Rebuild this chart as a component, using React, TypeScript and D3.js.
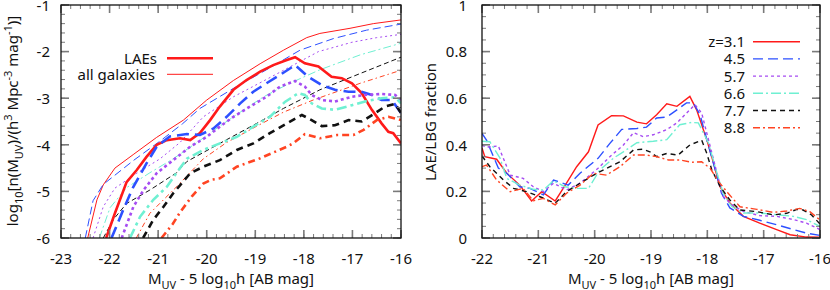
import React from 'react';
import * as d3 from 'd3';

type P = [number, number];

// ---------- Left panel: luminosity functions ----------
const allZ31: P[] = [[-22.45,-6],[-22.26,-5.18],[-22.13,-4.86],[-21.89,-4.5],[-21.5,-4.2],[-21.03,-3.84],[-20.48,-3.47],[-20.0,-3.04],[-19.45,-2.62],[-18.9,-2.26],[-18.42,-1.97],[-17.94,-1.7],[-17.67,-1.61],[-17.05,-1.5],[-16.57,-1.4],[-16,-1.32]];
const allZ45: P[] = [[-22.5,-6],[-22.34,-5.2],[-22.13,-4.85],[-21.5,-4.33],[-20.96,-3.92],[-20.5,-3.55],[-20.14,-3.22],[-19.45,-2.79],[-18.77,-2.39],[-18.08,-1.97],[-17.39,-1.72],[-16.71,-1.54],[-16,-1.41]];
const allZ57: P[] = [[-22.34,-6],[-22.13,-5.33],[-21.89,-4.93],[-21.44,-4.61],[-20.96,-4.3],[-20.55,-3.95],[-20.07,-3.4],[-19.45,-2.97],[-18.83,-2.63],[-18.29,-2.33],[-17.7,-2.0],[-17.01,-1.8],[-16.5,-1.7],[-16,-1.63]];
const allZ66: P[] = [[-22.21,-6],[-21.99,-5.35],[-21.65,-4.92],[-21.17,-4.6],[-20.69,-4.3],[-20.2,-3.95],[-19.73,-3.6],[-19.31,-3.3],[-18.83,-2.97],[-18.29,-2.68],[-17.67,-2.39],[-16.84,-2.07],[-16,-1.82]];
const allZ77: P[] = [[-22.13,-6],[-21.92,-5.6],[-21.65,-5.26],[-21.17,-4.97],[-20.62,-4.6],[-20.41,-4.36],[-19.73,-3.97],[-18.97,-3.54],[-18.42,-3.22],[-17.67,-2.82],[-16.84,-2.47],[-16,-2.12]];
const allZ88: P[] = [[-21.45,-6],[-21.17,-5.47],[-20.62,-4.9],[-20.07,-4.3],[-19.59,-3.95],[-18.97,-3.6],[-18.42,-3.3],[-17.81,-3.04],[-16.84,-2.68],[-16,-2.4]];

const laeZ31: P[] = [[-22.07,-6],[-21.89,-5.47],[-21.65,-4.8],[-21.44,-4.54],[-21.24,-4.26],[-21.03,-4.0],[-20.82,-3.9],[-20.55,-3.86],[-20.34,-3.9],[-20.14,-3.75],[-19.93,-3.47],[-19.73,-3.18],[-19.45,-2.82],[-19.18,-2.61],[-18.9,-2.43],[-18.63,-2.29],[-18.35,-2.18],[-18.18,-2.12],[-17.98,-2.25],[-17.7,-2.32],[-17.43,-2.54],[-17.22,-2.57],[-17.01,-2.68],[-16.81,-2.89],[-16.6,-3.25],[-16.4,-3.54],[-16.26,-3.72],[-16.16,-3.75],[-16,-3.97]];
const laeZ45: P[] = [[-21.96,-6],[-21.72,-5.4],[-21.51,-4.9],[-21.24,-4.4],[-21.03,-4.04],[-20.76,-3.82],[-20.41,-3.77],[-20.14,-3.79],[-19.86,-3.65],[-19.59,-3.4],[-19.31,-3.11],[-19.04,-2.86],[-18.77,-2.68],[-18.49,-2.5],[-18.18,-2.29],[-17.91,-2.54],[-17.63,-2.72],[-17.36,-2.82],[-17.08,-2.86],[-16.81,-2.86],[-16.6,-2.93],[-16.4,-3.04],[-16.19,-3.04],[-16,-3.32]];
const laeZ57: P[] = [[-21.75,-6],[-21.51,-5.33],[-21.3,-4.97],[-21.03,-4.61],[-20.69,-4.33],[-20.34,-4.04],[-20.0,-3.83],[-19.73,-3.61],[-19.45,-3.4],[-19.11,-3.18],[-18.77,-2.97],[-18.49,-2.75],[-18.18,-2.63],[-17.98,-2.75],[-17.84,-2.93],[-17.63,-3.04],[-17.36,-3.07],[-17.01,-2.97],[-16.74,-2.93],[-16.4,-2.91],[-16.12,-2.93],[-16,-3.04]];
const laeZ66: P[] = [[-21.58,-6],[-21.37,-5.54],[-21.1,-5.18],[-20.82,-4.9],[-20.62,-4.6],[-20.41,-4.3],[-20.07,-4.11],[-19.73,-3.97],[-19.38,-3.83],[-19.04,-3.61],[-18.7,-3.4],[-18.39,-3.08],[-18.11,-2.89],[-17.98,-2.93],[-17.84,-3.11],[-17.63,-3.22],[-17.36,-3.25],[-17.01,-3.15],[-16.74,-3.07],[-16.4,-3.0],[-16.12,-2.98],[-16,-3.11]];
const laeZ77: P[] = [[-21.31,-6],[-21.1,-5.61],[-20.89,-5.33],[-20.69,-5.04],[-20.55,-4.87],[-20.34,-4.61],[-20.07,-4.47],[-19.73,-4.33],[-19.38,-4.11],[-19.04,-3.97],[-18.7,-3.75],[-18.35,-3.54],[-18.04,-3.36],[-17.84,-3.47],[-17.63,-3.6],[-17.36,-3.58],[-17.08,-3.47],[-16.81,-3.5],[-16.53,-3.32],[-16.33,-3.18],[-16.12,-3.12],[-16,-3.32]];
const laeZ88: P[] = [[-20.93,-6],[-20.7,-5.7],[-20.55,-5.45],[-20.3,-5.1],[-20.07,-4.83],[-19.9,-4.75],[-19.73,-4.72],[-19.38,-4.47],[-18.9,-4.29],[-18.35,-4.04],[-18.22,-3.97],[-17.98,-3.77],[-17.67,-3.86],[-17.32,-3.79],[-16.98,-3.79],[-16.77,-3.68],[-16.5,-3.47],[-16.26,-3.4],[-16,-3.47]];

// ---------- Right panel: LAE / LBG fraction ----------
const fracZ31: P[] = [[-22,0.386],[-21.95,0.349],[-21.74,0.338],[-21.56,0.278],[-21.33,0.227],[-21.12,0.159],[-20.94,0.199],[-20.7,0.159],[-20.5,0.235],[-20.32,0.306],[-20.11,0.37],[-19.94,0.485],[-19.7,0.525],[-19.49,0.524],[-19.25,0.497],[-19.08,0.49],[-18.9,0.529],[-18.72,0.576],[-18.54,0.565],[-18.31,0.608],[-18.19,0.55],[-18.01,0.422],[-17.89,0.322],[-17.78,0.222],[-17.6,0.15],[-17.36,0.093],[-17.07,0.064],[-16.77,0.036],[-16.53,0.014],[-16.24,0.004],[-16,0.003]];
const fracZ45: P[] = [[-22,0.449],[-21.92,0.42],[-21.71,0.3],[-21.56,0.278],[-21.33,0.22],[-21.15,0.213],[-20.91,0.185],[-20.73,0.249],[-20.47,0.227],[-20.26,0.278],[-19.94,0.342],[-19.73,0.406],[-19.52,0.466],[-19.25,0.47],[-19.08,0.476],[-18.9,0.515],[-18.72,0.519],[-18.54,0.55],[-18.37,0.58],[-18.25,0.58],[-18.13,0.53],[-18.01,0.422],[-17.86,0.293],[-17.75,0.193],[-17.6,0.129],[-17.36,0.093],[-17.07,0.076],[-16.77,0.057],[-16.47,0.036],[-16.24,0.021],[-16,0.011]];
const fracZ57: P[] = [[-22,0.398],[-21.92,0.39],[-21.71,0.395],[-21.5,0.27],[-21.27,0.256],[-21.09,0.22],[-20.91,0.199],[-20.73,0.235],[-20.5,0.206],[-20.26,0.235],[-19.94,0.299],[-19.73,0.349],[-19.49,0.399],[-19.31,0.452],[-19.14,0.435],[-18.96,0.443],[-18.72,0.465],[-18.54,0.494],[-18.37,0.536],[-18.22,0.572],[-18.1,0.536],[-17.98,0.422],[-17.83,0.279],[-17.72,0.179],[-17.57,0.143],[-17.36,0.114],[-17.07,0.096],[-16.77,0.093],[-16.47,0.079],[-16.24,0.064],[-16,0.036]];
const fracZ66: P[] = [[-22,0.415],[-21.86,0.413],[-21.68,0.343],[-21.56,0.256],[-21.33,0.227],[-21.09,0.209],[-20.91,0.206],[-20.73,0.246],[-20.53,0.22],[-20.32,0.213],[-20.11,0.213],[-19.91,0.292],[-19.67,0.342],[-19.49,0.37],[-19.25,0.409],[-18.96,0.415],[-18.72,0.422],[-18.49,0.486],[-18.28,0.496],[-18.16,0.494],[-17.98,0.408],[-17.83,0.279],[-17.72,0.193],[-17.57,0.136],[-17.36,0.107],[-17.07,0.107],[-16.77,0.1],[-16.47,0.093],[-16.24,0.079],[-16,0.05]];
const fracZ77: P[] = [[-22,0.352],[-21.86,0.306],[-21.62,0.249],[-21.44,0.213],[-21.21,0.199],[-20.97,0.177],[-20.7,0.149],[-20.5,0.199],[-20.26,0.235],[-20.02,0.27],[-19.79,0.299],[-19.55,0.327],[-19.31,0.378],[-19.14,0.381],[-19.02,0.37],[-18.9,0.349],[-18.72,0.363],[-18.52,0.356],[-18.31,0.399],[-18.1,0.42],[-18.01,0.363],[-17.92,0.292],[-17.77,0.22],[-17.6,0.163],[-17.42,0.12],[-17.12,0.113],[-16.83,0.099],[-16.59,0.106],[-16.41,0.123],[-16.3,0.12],[-16.15,0.099],[-16,0.06]];
const fracZ88: P[] = [[-22,0.306],[-21.92,0.313],[-21.74,0.249],[-21.5,0.199],[-21.27,0.213],[-21.09,0.16],[-20.91,0.17],[-20.7,0.142],[-20.5,0.192],[-20.26,0.227],[-20.02,0.278],[-19.79,0.27],[-19.55,0.306],[-19.31,0.356],[-19.08,0.356],[-18.9,0.349],[-18.69,0.335],[-18.49,0.335],[-18.28,0.325],[-18.1,0.327],[-17.95,0.299],[-17.8,0.242],[-17.63,0.192],[-17.42,0.134],[-17.12,0.123],[-16.83,0.11],[-16.59,0.116],[-16.36,0.127],[-16.18,0.113],[-16,0.077]];

const legendLabels = ['z=3.1', '4.5', '5.7', '6.6', '7.7', '8.8'];
const leftLegend = ['LAEs', 'all galaxies'];
const leftXTicks = [-23, -22, -21, -20, -19, -18, -17, -16];
const leftYTicks = [-6, -5, -4, -3, -2, -1];
const rightXTicks = [-22, -21, -20, -19, -18, -17, -16];
const rightYTicks = [0, 0.2, 0.4, 0.6, 0.8, 1];

const FONT = "'Noto Sans', 'Open Sans', sans-serif";
const COLORS = ['#ff1a1a', '#2d50ff', '#a64cf2', '#6ff0d2', '#111111', '#ff4422'];
const THIN_DASH = ['', '8,4', '2,3', '8,3,2,3', '5,3', '5,3,1.5,3'];
const THICK_DASH = ['', '12,6', '3,3', '10,4,3,4', '7,5', '7,4,2,4'];
const RIGHT_DASH = ['', '10,5', '3,3', '10,3,2,3', '5,4', '7,3,2,3'];

type Seg = { t: string; s?: 'sub' | 'sup' };
function RichText({ segs, size, small }: { segs: Seg[]; size: number; small: number }) {
  let cur = 0;
  return (
    <>
      {segs.map((sg, i) => {
        const target = sg.s === 'sub' ? size * 0.3 : sg.s === 'sup' ? -size * 0.42 : 0;
        const dy = target - cur;
        cur = target;
        return (
          <tspan key={i} dy={dy} fontSize={sg.s ? small : size}>
            {sg.t}
          </tspan>
        );
      })}
    </>
  );
}

const xLabelSegs: Seg[] = [
  { t: 'M' }, { t: 'UV', s: 'sub' }, { t: ' - 5 log' }, { t: '10', s: 'sub' }, { t: 'h [AB mag]' },
];
const yLabelSegs: Seg[] = [
  { t: 'log' }, { t: '10', s: 'sub' }, { t: '[n(M' }, { t: 'UV', s: 'sub' }, { t: ')/(h' },
  { t: '3', s: 'sup' }, { t: ' Mpc' }, { t: '-3', s: 'sup' }, { t: ' mag' }, { t: '-1', s: 'sup' }, { t: ')]' },
];

function Frame({ x, y, xMinor, yMinor, xMajor, yMajor, fmtY, labelGap }: any) {
  const [x0, x1] = x.range();
  const [y1, y0] = y.range();
  const tickColor = '#7a7a7a';
  const els: any[] = [];
  xMinor.forEach((v: number, i: number) => {
    const px = x(v);
    els.push(<line key={'xm' + i} x1={px} x2={px} y1={y1} y2={y1 - 4} stroke={tickColor} strokeWidth={1} />);
    els.push(<line key={'xmt' + i} x1={px} x2={px} y1={y0} y2={y0 + 4} stroke={tickColor} strokeWidth={1} />);
  });
  yMinor.forEach((v: number, i: number) => {
    const py = y(v);
    els.push(<line key={'ym' + i} x1={x0} x2={x0 + 4} y1={py} y2={py} stroke={tickColor} strokeWidth={1} />);
    els.push(<line key={'ymr' + i} x1={x1} x2={x1 - 4} y1={py} y2={py} stroke={tickColor} strokeWidth={1} />);
  });
  xMajor.forEach((v: number, i: number) => {
    const px = x(v);
    els.push(<line key={'xM' + i} x1={px} x2={px} y1={y1} y2={y1 - 8} stroke={tickColor} strokeWidth={1.6} />);
    els.push(<line key={'xMt' + i} x1={px} x2={px} y1={y0} y2={y0 + 8} stroke={tickColor} strokeWidth={1.6} />);
    els.push(
      <text key={'xl' + i} x={px} y={264} textAnchor="middle" fontSize={15} fontFamily={FONT} fill="#111">
        {String(v)}
      </text>
    );
  });
  yMajor.forEach((v: number, i: number) => {
    const py = y(v);
    els.push(<line key={'yM' + i} x1={x0} x2={x0 + 8} y1={py} y2={py} stroke={tickColor} strokeWidth={1.6} />);
    els.push(<line key={'yMr' + i} x1={x1} x2={x1 - 8} y1={py} y2={py} stroke={tickColor} strokeWidth={1.6} />);
    els.push(
      <text key={'yl' + i} x={x0 - labelGap} y={py + 5.8} textAnchor="end" fontSize={15} fontFamily={FONT} fill="#111">
        {fmtY(v)}
      </text>
    );
  });
  return (
    <g>
      {els}
      <rect x={x0} y={y0} width={x1 - x0} height={y1 - y0} fill="none" stroke="#111" strokeWidth={1.3} />
    </g>
  );
}

export default function App() {
  // left panel scales
  const xL = d3.scaleLinear().domain([-23, -16]).range([61, 401]);
  const yL = d3.scaleLinear().domain([-6, -1]).range([238, 5]);
  // right panel scales
  const xR = d3.scaleLinear().domain([-22, -16]).range([482, 820]);
  const yR = d3.scaleLinear().domain([0, 1]).range([238, 5]);

  const lineL = d3.line<P>().x((d) => xL(d[0])).y((d) => yL(d[1]));
  const lineR = d3.line<P>().x((d) => xR(d[0])).y((d) => yR(d[1]));

  const allSeries = [allZ31, allZ45, allZ57, allZ66, allZ77, allZ88];
  const laeSeries = [laeZ31, laeZ45, laeZ57, laeZ66, laeZ77, laeZ88];
  const fracSeries = [fracZ31, fracZ45, fracZ57, fracZ66, fracZ77, fracZ88];

  const minorL_x = d3.range(-23, -16 + 1e-9, 0.2);
  const minorL_y = d3.range(-6, -1 + 1e-9, 0.2);
  const minorR_x = d3.range(-22, -16 + 1e-9, 0.2);
  const minorR_y = d3.range(0, 1 + 1e-9, 0.05);

  return (
    <svg width={830} height={290} style={{ position: 'absolute', left: 0, top: 0, background: '#fff' }}>
      <defs>
        <clipPath id="clipL">
          <rect x={61} y={5} width={340} height={233} />
        </clipPath>
        <clipPath id="clipR">
          <rect x={482} y={5} width={338} height={233} />
        </clipPath>
      </defs>

      {/* LEFT PANEL */}
      <g clipPath="url(#clipL)">
        {allSeries.map((s, i) => (
          <path key={'a' + i} d={lineL(s) || ''} fill="none" stroke={COLORS[i]} strokeWidth={1}
            strokeDasharray={THIN_DASH[i] || undefined} />
        ))}
        {laeSeries.map((s, i) => (
          <path key={'l' + i} d={lineL(s) || ''} fill="none" stroke={COLORS[i]} strokeWidth={2.6}
            strokeDasharray={THICK_DASH[i] || undefined} />
        ))}
      </g>
      <Frame x={xL} y={yL} xMinor={minorL_x} yMinor={minorL_y} xMajor={leftXTicks} yMajor={leftYTicks}
        fmtY={(v: number) => String(v)} labelGap={11} />
      {/* left legend */}
      <text x={157} y={63.5} textAnchor="end" fontSize={15} fontFamily={FONT} fill="#111">{leftLegend[0]}</text>
      <line x1={167} x2={213} y1={58.3} y2={58.3} stroke={COLORS[0]} strokeWidth={2.6} />
      <text x={155} y={80} textAnchor="end" fontSize={15} fontFamily={FONT} fill="#111">{leftLegend[1]}</text>
      <line x1={167} x2={213} y1={74.3} y2={74.3} stroke={COLORS[0]} strokeWidth={1} />
      {/* left axis labels */}
      <text x={231} y={284} textAnchor="middle" fontSize={15} fontFamily={FONT} fill="#111">
        <RichText segs={xLabelSegs} size={15} small={11} />
      </text>
      <text transform={`translate(18,${121}) rotate(-90)`} textAnchor="middle" fontSize={15} fontFamily={FONT} fill="#111">
        <RichText segs={yLabelSegs} size={15} small={11} />
      </text>

      {/* RIGHT PANEL */}
      <g clipPath="url(#clipR)">
        {fracSeries.map((s, i) => (
          <path key={'f' + i} d={lineR(s) || ''} fill="none" stroke={COLORS[i]} strokeWidth={1.4}
            strokeDasharray={RIGHT_DASH[i] || undefined} />
        ))}
      </g>
      <Frame x={xR} y={yR} xMinor={minorR_x} yMinor={minorR_y} xMajor={rightXTicks} yMajor={rightYTicks}
        fmtY={(v: number) => (v === 0 || v === 1 ? String(v) : v.toFixed(1))} labelGap={15} />
      {legendLabels.map((lab, i) => {
        const ly = 41.7 + i * 17.2;
        return (
          <g key={'lg' + i}>
            <text x={745} y={ly + 5.5} textAnchor="end" fontSize={15} fontFamily={FONT} fill="#111">{lab}</text>
            <line x1={753} x2={800} y1={ly} y2={ly} stroke={COLORS[i]} strokeWidth={1.4}
              strokeDasharray={RIGHT_DASH[i] || undefined} />
          </g>
        );
      })}
      <text x={651} y={284} textAnchor="middle" fontSize={15} fontFamily={FONT} fill="#111">
        <RichText segs={xLabelSegs} size={15} small={11} />
      </text>
      <text transform={`translate(436,${122}) rotate(-90)`} textAnchor="middle" fontSize={15} fontFamily={FONT} fill="#111">
        LAE/LBG fraction
      </text>
    </svg>
  );
}
